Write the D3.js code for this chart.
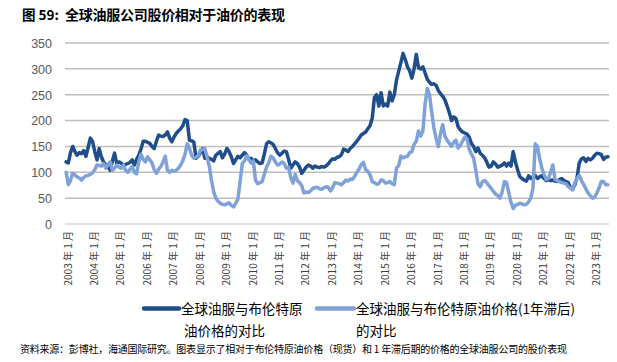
<!DOCTYPE html>
<html><head><meta charset="utf-8">
<script src="https://cdn.jsdelivr.net/npm/d3@7"></script>
<style>body{margin:0;background:#fff} svg{display:block}</style>
</head><body><svg id="c" width="617" height="362"></svg>
<script>
// ---- data ----
const years = ["2003","2004","2005","2006","2007","2008","2009","2010","2011","2012","2013","2014","2015","2016","2017","2018","2019","2020","2021","2022","2023"];
const yTicks = [0, 50, 100, 150, 200, 250, 300, 350];
const seriesNames = ["全球油服与布伦特原油价格的对比", "全球油服与布伦特原油价格(1年滞后)的对比"];
// monthly, Jan 2003 – Jul 2023
const vsBrent = [
  120,118,138,150,140,133,138,136,142,131,148,166,
  160,140,124,146,130,120,115,111,104,122,137,117,
  120,118,112,115,117,119,124,114,125,133,145,160,
  160,158,156,150,146,160,172,170,169,172,178,166,
  159,168,175,180,184,190,202,200,162,161,158,127,
  131,138,146,127,130,127,125,122,133,137,140,128,
  135,146,140,130,117,124,131,128,133,138,133,125,
  127,122,124,120,117,118,135,155,159,157,154,146,
  138,133,137,141,140,125,108,114,120,117,110,98,
  104,110,114,112,108,112,110,109,111,110,112,116,
  122,126,125,129,130,134,145,143,140,146,150,155,
  160,166,172,175,178,184,190,205,245,250,228,254,
  228,232,228,255,238,250,278,295,312,330,318,304,
  296,282,300,328,302,300,304,292,280,274,270,271,
  268,258,252,247,240,228,215,200,207,204,188,182,
  178,176,174,168,156,150,140,147,137,133,128,120,
  110,112,120,116,110,112,114,118,112,118,112,140,
  120,105,92,88,85,83,93,88,92,94,88,91,
  93,88,84,86,84,85,83,82,86,88,84,82,
  80,70,68,76,90,118,126,128,121,127,124,127,
  133,137,136,134,125,129,130
];
const vsBrentLag = [
  100,76,84,98,95,91,89,85,90,93,94,96,
  99,105,114,113,112,117,108,115,120,104,108,114,
  110,108,114,104,100,106,111,100,97,120,135,125,
  120,130,124,118,105,98,106,111,120,131,104,100,
  104,102,104,108,114,122,135,155,146,133,127,129,
  132,143,144,146,130,112,85,62,50,44,40,38,
  37,39,41,36,33,40,48,82,117,122,132,125,
  118,122,85,78,80,82,96,110,118,131,128,120,
  114,116,120,117,108,110,90,79,96,84,80,74,
  60,62,61,64,69,70,71,68,67,70,72,71,
  64,70,80,79,78,76,80,85,83,87,86,92,
  100,106,115,119,105,102,95,82,80,77,78,85,
  84,79,80,82,78,76,108,113,131,128,130,131,
  138,140,154,160,180,170,180,232,262,250,216,186,
  165,150,175,192,170,162,156,150,158,162,147,152,
  160,168,165,145,135,128,105,78,72,82,84,80,
  74,69,63,58,55,50,62,82,80,60,42,30,
  36,38,40,39,37,38,43,50,70,155,150,127,
  108,96,86,88,100,114,86,84,82,80,79,78,
  72,70,66,80,88,94,84,76,68,60,55,50,
  52,60,70,82,82,76,76
];

// ---- drawing ----
const svg = d3.select("#c");
const colors = ["#1F4E8A", "#7FA2D8"];
const N = vsBrent.length;
const x = d3.scaleLinear().domain([-0.5, N - 0.5]).range([65, 609]);
const y = d3.scaleLinear().domain([0, 350]).range([224, 43]);
const cjk = "'Noto Sans CJK SC', 'Noto Sans', sans-serif";

// title
svg.append("text").attr("x", 22).attr("y", 20).attr("font-family", cjk)
  .attr("font-weight", "bold").attr("font-size", 13.5).attr("fill", "#000").text("图 59:");
svg.append("text").attr("x", 65).attr("y", 20).attr("font-family", cjk)
  .attr("font-weight", "bold").attr("font-size", 14).attr("fill", "#000")
  .attr("textLength", 220).attr("lengthAdjust", "spacing")
  .text("全球油服公司股价相对于油价的表现");

// gridlines
svg.append("g").selectAll("line").data(yTicks).join("line")
  .attr("x1", 65).attr("x2", 609)
  .attr("y1", d => y(d)).attr("y2", d => y(d))
  .attr("stroke", d => d === 0 ? "#D9D9D9" : "#BFBFBF").attr("stroke-width", 1.5);

// y axis labels
const yAxis = d3.axisLeft(y).tickValues(yTicks).tickSize(0).tickPadding(0);
const gy = svg.append("g").attr("transform", "translate(52,0)").call(yAxis);
gy.select(".domain").remove();
gy.selectAll("text").attr("font-family", "'Liberation Sans', Arial, sans-serif")
  .attr("font-size", 12.5).attr("fill", "#595959").attr("dy", "0.35em");

// x axis labels (every January)
svg.append("g").selectAll("text").data(years).join("text")
  .attr("transform", (d, i) => `translate(${x(i * 12) + 1},231) rotate(-90)`)
  .attr("text-anchor", "end").attr("dominant-baseline", "central")
  .attr("font-family", cjk).attr("font-size", 10).attr("fill", "#404040")
  .text(d => `${d} 年 1 月`);

// lines
const line = d3.line().x((d, i) => x(i)).y(d => y(d));
[vsBrent, vsBrentLag].forEach((s, k) => {
  svg.append("path").datum(s).attr("d", line).attr("fill", "none")
    .attr("stroke", colors[k]).attr("stroke-width", 3.5)
    .attr("stroke-linejoin", "round").attr("stroke-linecap", "round");
});

// legend
const leg = [
  {x1: 144, x2: 179, tx: 181, l1: "全球油服与布伦特原", l2: "油价格的对比", l2x: 184},
  {x1: 317, x2: 354, tx: 356, l1: "全球油服与布伦特原油价格(1年滞后)", l2: "的对比", l2x: 356}
];
leg.forEach((d, k) => {
  svg.append("line").attr("x1", d.x1).attr("x2", d.x2).attr("y1", 308.5).attr("y2", 308.5)
    .attr("stroke", colors[k]).attr("stroke-width", 4.5).attr("stroke-linecap", "round");
  svg.append("text").attr("x", d.tx).attr("y", 313.5).attr("font-family", cjk)
    .attr("font-size", 13.5).attr("fill", "#000").text(d.l1);
  svg.append("text").attr("x", d.l2x).attr("y", 336).attr("font-family", cjk)
    .attr("font-size", 13.5).attr("fill", "#000").text(d.l2);
});

// footnote
svg.append("text").attr("x", 20).attr("y", 353).attr("font-family", cjk)
  .attr("font-size", 10).attr("fill", "#000")
  .attr("textLength", 547).attr("lengthAdjust", "spacing")
  .text("资料来源：彭博社，海通国际研究。图表显示了相对于布伦特原油价格（现货）和 1 年滞后期的价格的全球油服公司的股价表现");
</script></body></html>
